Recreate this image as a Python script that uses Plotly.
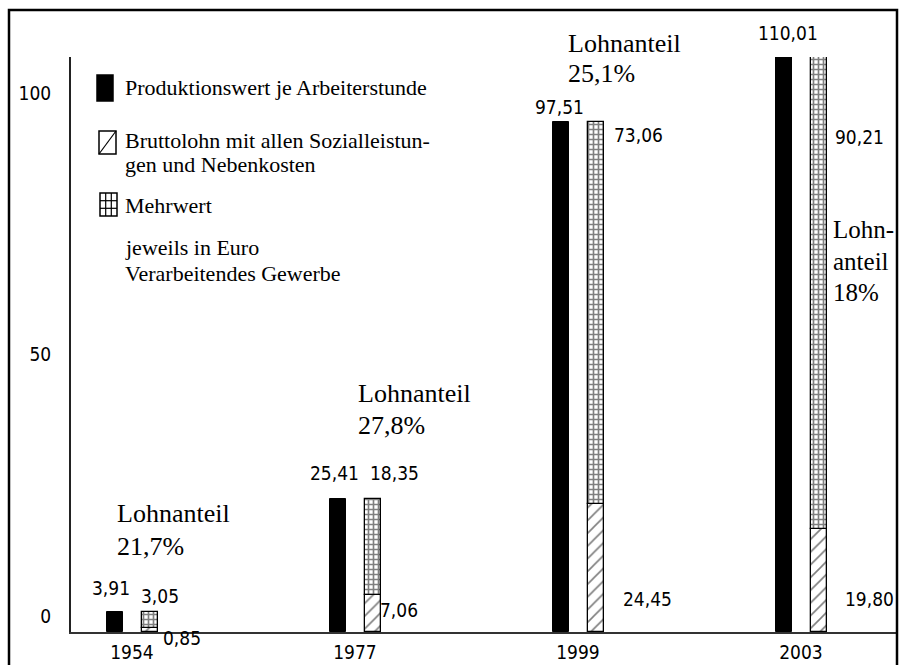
import plotly.graph_objects as go

# ---------------- data ----------------
years = ["1954", "1977", "1999", "2003"]
produktionswert = [3.91, 25.41, 97.51, 110.01]
bruttolohn = [0.85, 7.06, 24.45, 19.80]
mehrwert = [3.05, 18.35, 73.06, 90.21]
lohnanteil = ["21,7%", "27,8%", "25,1%", "18%"]
series_names = ["Produktionswert je Arbeiterstunde",
                "Bruttolohn mit allen Sozialleistun-", "gen und Nebenkosten",
                "Mehrwert"]
notes = ["jeweils in Euro", "Verarbeitendes Gewerbe"]
y_ticks = [0, 50, 100]

# ---------------- layout geometry ----------------
WIDTH, HEIGHT = 899, 665
L, R, T, B = 71, 897, 57, 632
PW, PH = R - L, B - T
STEP = 223.0                     # px per category
R0 = -(132 - L) / STEP           # category axis range start
R1 = R0 + PW / STEP
REF_CENTER = [118, 371, 627, 798]  # label offsets measured from these

SERIF = "Liberation Serif, Times New Roman, serif"
NARROW = "Liberation Sans Narrow, Arial Narrow, DejaVu Sans Condensed, sans-serif"


def px(x):
    return (x - L) / PW


def py(y):
    return (B - y) / PH


def de(v):
    return f"{v:.2f}".replace(".", ",")


fig = go.Figure()

BW = 16 / STEP
OFF_BLACK = -25.5 / STEP
OFF_STACK = 9.5 / STEP
fig.add_trace(go.Bar(
    x=years, y=produktionswert, width=BW, offset=OFF_BLACK,
    marker=dict(color="black", line=dict(color="black", width=1)),
    name=series_names[0], showlegend=False))
fig.add_trace(go.Bar(
    x=years, y=bruttolohn, width=BW, offset=OFF_STACK,
    marker=dict(color="white", line=dict(color="black", width=1.3),
                pattern=dict(shape="/", fgcolor="black", bgcolor="white",
                             size=9, solidity=0.18)),
    name="Bruttolohn", showlegend=False))
fig.add_trace(go.Bar(
    x=years, y=mehrwert, base=bruttolohn, width=BW, offset=OFF_STACK,
    marker=dict(color="white", line=dict(color="black", width=1.3),
                pattern=dict(shape="+", fgcolor="black", bgcolor="white",
                             size=5, solidity=0.55)),
    name=series_names[3], showlegend=False))

ann = []


def text(x, y, s, font, size, xanchor="center"):
    ann.append(dict(x=px(x), y=py(y), xref="paper", yref="paper", text=s,
                    showarrow=False, xanchor=xanchor, yanchor="middle",
                    font=dict(family=font, size=size, color="black")))


def vlabel(i, xref_px, y, s, size=19):
    # horizontal position follows the bar group i on the category axis
    cx = L + (i - R0) * STEP + (xref_px - REF_CENTER[i])
    text(cx, y, s, NARROW, size)


# value labels (placed relative to their bar group)
vlabel(0, 97, 588, de(produktionswert[0]))
vlabel(0, 146, 596, de(mehrwert[0]))
vlabel(0, 168, 638, de(bruttolohn[0]))
vlabel(1, 350, 473, de(produktionswert[1]))
vlabel(1, 410, 473, de(mehrwert[1]))
vlabel(1, 415, 610, de(bruttolohn[1]))
vlabel(2, 608, 107, de(produktionswert[2]))
vlabel(2, 687, 135, de(mehrwert[2]))
vlabel(2, 696, 599, de(bruttolohn[2]))
vlabel(3, 785, 33, de(produktionswert[3]))
vlabel(3, 856, 137, de(mehrwert[3]))
vlabel(3, 866, 599, de(bruttolohn[3]))

LS = 26
# Lohnanteil notes
text(115, 513, "Lohnanteil", SERIF, LS, "left")
text(115, 546, lohnanteil[0], SERIF, LS, "left")
text(356, 393, "Lohnanteil", SERIF, LS, "left")
text(356, 425, lohnanteil[1], SERIF, LS, "left")
text(566, 43, "Lohnanteil", SERIF, LS, "left")
text(566, 73, lohnanteil[2], SERIF, LS, "left")
text(831, 230, "Lohn-", SERIF, 25, "left")
text(831, 261, "anteil", SERIF, 25, "left")
text(831, 292, lohnanteil[3], SERIF, 25, "left")

GS = 22
# legend text
text(123, 87, series_names[0], SERIF, GS, "left")
text(123, 141, series_names[1], SERIF, GS, "left")
text(123, 165, series_names[2], SERIF, GS, "left")
text(123, 205, series_names[3], SERIF, GS, "left")
text(123, 248, notes[0], SERIF, GS, "left")
text(123, 273, notes[1], SERIF, GS, "left")

shapes = []


def rect(x0, y0, x1, y1, fill=None, w=1.5):
    shapes.append(dict(type="rect", xref="paper", yref="paper",
                       x0=px(x0), x1=px(x1), y0=py(y1), y1=py(y0),
                       line=dict(color="black", width=w),
                       fillcolor=fill if fill else "rgba(0,0,0,0)"))


def line(x0, y0, x1, y1, w=1.2):
    shapes.append(dict(type="line", xref="paper", yref="paper",
                       x0=px(x0), x1=px(x1), y0=py(y0), y1=py(y1),
                       line=dict(color="black", width=w)))


# legend symbols
rect(97, 75, 113, 101, fill="black")
rect(99, 131, 116, 154)
line(99, 154, 116, 131)
rect(100, 193, 117, 216)
line(105.7, 193, 105.7, 216)
line(111.3, 193, 111.3, 216)
line(100, 200.7, 117, 200.7)
line(100, 208.3, 117, 208.3)

# outer frame
rect(9, 10, 897, 670, w=2.5)

fig.update_layout(
    width=WIDTH, height=HEIGHT,
    margin=dict(l=L, r=WIDTH - R, t=T, b=HEIGHT - B, autoexpand=False),
    paper_bgcolor="white", plot_bgcolor="white",
    barmode="overlay", bargap=0,
    annotations=ann, shapes=shapes,
    xaxis=dict(type="category", range=[R0, R1], showgrid=False,
               showline=True, linecolor="#333", linewidth=1.5, ticks="",
               tickfont=dict(family=NARROW, size=19, color="black"),
               ticklabelstandoff=2, zeroline=False, fixedrange=True),
    yaxis=dict(range=[0, 110], showgrid=False, zeroline=False,
               showline=True, linecolor="#222", linewidth=2, ticks="",
               tickvals=y_ticks, ticktext=[str(v) for v in y_ticks],
               tickfont=dict(family=NARROW, size=19, color="black"),
               ticklabelshift=-16, ticklabelstandoff=14, fixedrange=True),
)

fig.write_html("out.html",
               config={"displayModeBar": False},
               post_script="document.body.style.margin='0';"
                           "document.body.style.overflow='hidden';")
